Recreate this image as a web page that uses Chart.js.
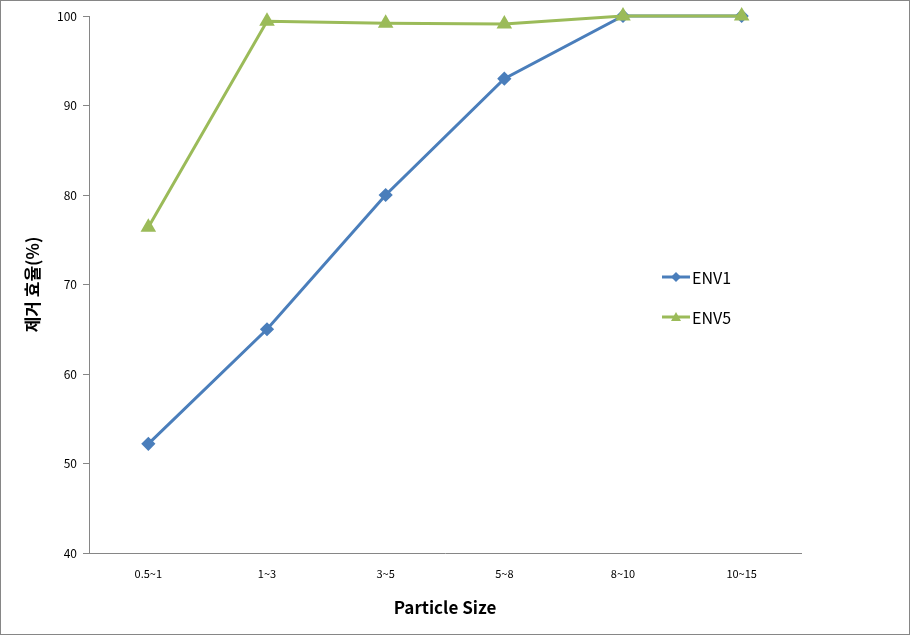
<!DOCTYPE html>
<html>
<head>
<meta charset="utf-8">
<script src="https://cdn.jsdelivr.net/npm/chart.js@4/dist/chart.umd.min.js"></script>
<style>
  html, body { margin: 0; padding: 0; background: #fff; }
  #wrap { width: 910px; height: 635px; position: relative; }
</style>
</head>
<body>
<div id="wrap"><canvas id="effChart" width="910" height="635"></canvas></div>
<script>
// data
const sizes = ['0.5~1', '1~3', '3~5', '5~8', '8~10', '10~15'];
const env1 = [52.2, 65.0, 80.0, 93.0, 100, 100];
const env5 = [76.4, 99.4, 99.2, 99.1, 100, 100];
const yTicks = [40, 50, 60, 70, 80, 90, 100];

const BLUE = '#4A7EBB';
const GREEN = '#9BBB59';
const FONT = "'Noto Sans CJK KR', 'Noto Sans', sans-serif";

// frame around the whole chart + legend inside the plot
const extras = {
    id: 'extras',
    beforeDraw(chart) {
        const ctx = chart.ctx;
        ctx.save();
        ctx.fillStyle = '#fff';
        ctx.fillRect(0, 0, chart.width, chart.height);
        ctx.strokeStyle = '#868686';
        ctx.lineWidth = 1;
        ctx.strokeRect(0.5, 0.5, chart.width - 1, chart.height - 1);
        ctx.restore();
    },
    afterDraw(chart) {
        const ctx = chart.ctx;
        const items = chart.data.datasets;
        ctx.save();
        items.forEach((ds, i) => {
            const y = 277 + i * 40;
            ctx.strokeStyle = ds.borderColor;
            ctx.lineWidth = 3;
            ctx.beginPath();
            ctx.moveTo(662, y);
            ctx.lineTo(690, y);
            ctx.stroke();
            ctx.fillStyle = ds.borderColor;
            ctx.beginPath();
            if (ds.pointStyle === 'triangle') {
                ctx.moveTo(676, y - 5);
                ctx.lineTo(681, y + 4);
                ctx.lineTo(671, y + 4);
            } else {
                ctx.moveTo(676, y - 5);
                ctx.lineTo(681, y);
                ctx.lineTo(676, y + 5);
                ctx.lineTo(671, y);
            }
            ctx.closePath();
            ctx.fill();
            ctx.fillStyle = '#000';
            ctx.font = '16px ' + FONT;
            ctx.textBaseline = 'middle';
            ctx.fillText(ds.label, 692, y + 1);
        });
        ctx.restore();
    }
};

new Chart(document.getElementById('effChart').getContext('2d'), {
    type: 'line',
    data: {
        labels: sizes,
        datasets: [
            {
                label: 'ENV1',
                data: env1,
                borderColor: BLUE,
                backgroundColor: BLUE,
                borderWidth: 3,
                pointStyle: 'rectRot',
                pointRadius: 5,
                pointHoverRadius: 5,
                tension: 0,
                clip: false,
                order: 2
            },
            {
                label: 'ENV5',
                data: env5,
                borderColor: GREEN,
                backgroundColor: GREEN,
                borderWidth: 3,
                pointStyle: 'triangle',
                pointRadius: 6,
                pointHoverRadius: 6,
                tension: 0,
                clip: false,
                order: 1
            }
        ]
    },
    options: {
        responsive: false,
        animation: false,
        layout: { padding: { top: 16, right: 109, left: 0, bottom: 0 } },
        plugins: {
            legend: { display: false },
            tooltip: { enabled: false }
        },
        scales: {
            x: {
                offset: true,
                grid: { display: false, drawTicks: false },
                border: { color: '#868686', width: 1 },
                ticks: { color: '#000', font: { family: FONT, size: 11 }, padding: 14 },
                title: {
                    display: true, text: 'Particle Size', color: '#000',
                    font: { family: FONT, size: 17, weight: 'bold' }, padding: { top: 0, bottom: 17 }
                },
                afterFit(scale) { scale.height = 82; }
            },
            y: {
                min: 40,
                max: 100,
                afterBuildTicks(scale) { scale.ticks = yTicks.map(v => ({ value: v })); },
                grid: { display: true, drawOnChartArea: false, drawTicks: true, tickLength: 6, color: '#868686' },
                border: { color: '#868686', width: 1 },
                ticks: { color: '#000', font: { family: FONT, size: 12 }, padding: 6 },
                title: {
                    display: true, text: '제거 효율(%)', color: '#000',
                    font: { family: FONT, size: 17, weight: 'bold' }, padding: { top: 22, bottom: 0 }
                },
                afterFit(scale) { scale.width = 89; }
            }
        }
    },
    plugins: [extras]
});
</script>
</body>
</html>
